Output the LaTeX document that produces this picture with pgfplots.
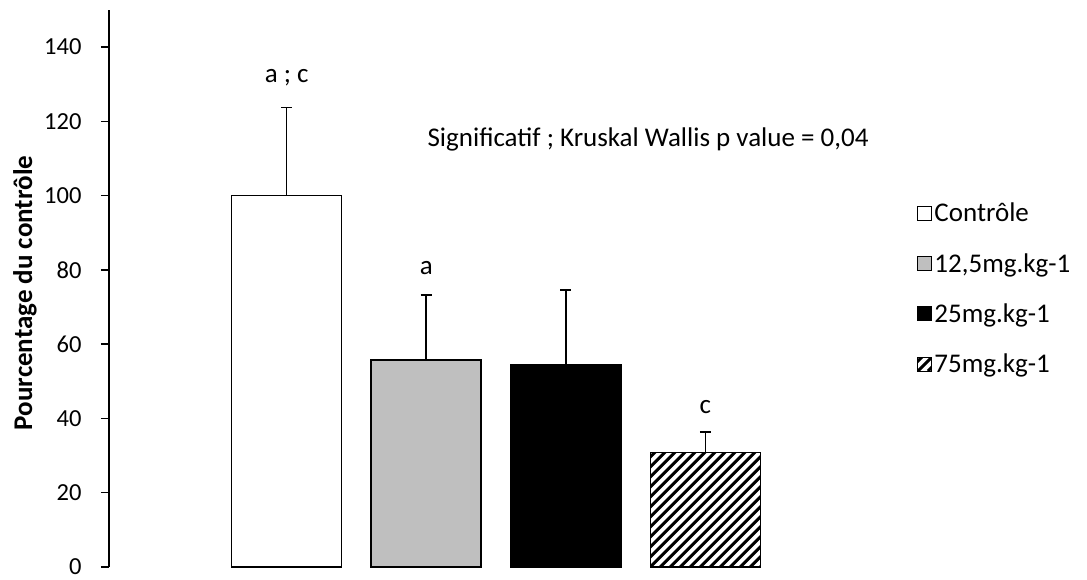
\documentclass[border=0pt]{standalone}
\usepackage{pgfplots}
\pgfplotsset{compat=1.18}
\usepackage{fontspec}
\setmainfont{Carlito}
\begin{document}
\begin{tikzpicture}[x=1pt,y=1pt]
\useasboundingbox (0,0) rectangle (1087,579);
\begin{axis}[
  at={(109pt,12pt)}, anchor=south west,
  scale only axis, width=774pt, height=557pt,
  xmin=-1.274, xmax=4.274, ymin=0, ymax=150,
  axis y line*=left, axis x line=none,
  ytick={0,20,...,140},
  tick align=outside, major tick length=8pt,
  tick style={black, line width=1.4pt},
  axis line style={black, line width=1.6pt},
  /pgf/number format/assume math mode=true,
  tick label style={font=\fontsize{24.5}{29}\selectfont},
  yticklabel style={xshift=-16pt},
  ylabel={\textbf{Pourcentage du contrôle}},
  ylabel style={at={(axis description cs:-0.1085,0.492)}, anchor=center, font=\fontsize{27}{32}\selectfont},
  ybar, bar width=110pt,
  every axis plot/.append style={bar shift=0pt, draw=black, line width=1.5pt},
  error bars/y dir=plus, error bars/y explicit,
  error bars/error bar style={black, line width=1.5pt},
  error bars/error mark options={black, line width=1.5pt, mark size=5.5pt, rotate=90},
  legend image code/.code={\draw[#1,line width=1.2pt] (0pt,-7pt) rectangle (14pt,7pt);},
  legend style={at={(axis description cs:1.044,0.657)}, anchor=north west, draw=none, fill=none,
    font=\fontsize{27}{32}\selectfont, row sep=26pt, inner sep=0pt,
    cells={anchor=west}, /tikz/every even column/.append style={column sep=0pt}},
  clip=false,
]
\addplot[draw=black, fill=white] coordinates {(0,100) +- (0,23.8)};
\addplot[draw=black, fill={rgb,255:red,191;green,191;blue,191}] coordinates {(1,55.7) +- (0,17.5)};
\addplot[draw=black, fill=black] coordinates {(2,54.4) +- (0,20.2)};
\addplot[draw=black, fill=white, postaction={path picture={
   \foreach \i in {-15,...,12} {
     \draw[black, line width=3pt] ([xshift=\i*10pt]path picture bounding box.south west) -- ++(170pt,170pt);
   }}}] coordinates {(3,30.8) +- (0,5.6)};
\legend{Contrôle,{12,5mg.kg-1},25mg.kg-1,75mg.kg-1}
\node[font=\fontsize{27}{32}\selectfont] at (axis cs:0,131.9) {a ; c};
\node[font=\fontsize{27}{32}\selectfont] at (axis cs:1,80.5) {a};
\node[font=\fontsize{27}{32}\selectfont] at (axis cs:3,43.1) {c};
\node[font=\fontsize{27}{32}\selectfont] at (axis cs:2.59,115.2) {Significatif ; Kruskal Wallis p value = 0,04};
\end{axis}
\end{tikzpicture}
\end{document}
